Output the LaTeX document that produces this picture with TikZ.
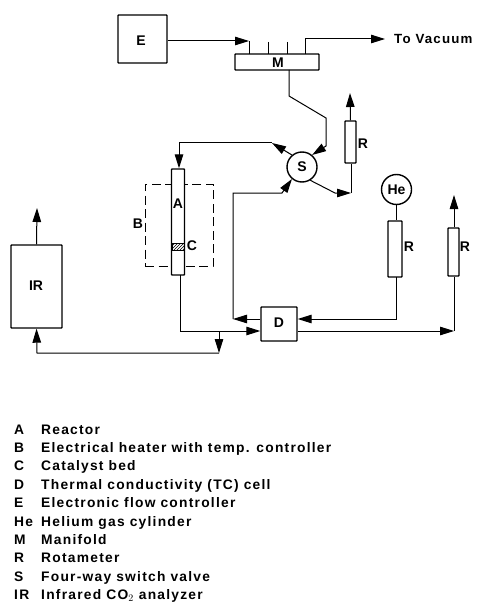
\documentclass[tikz,border=0pt]{standalone}
\usepackage{fontspec}
\setmainfont{Liberation Sans}[BoldFont={Liberation Sans Bold}]
\newfontfamily\legfont[LetterSpace=9]{Liberation Sans Bold}
\usetikzlibrary{arrows.meta,patterns}
\tikzset{
  x=1pt,y=-1pt,
  line/.style={draw=black,line width=1pt},
  boxs/.style={draw=black,line width=1.4pt,fill=white,rounded corners=0.6pt,inner sep=0pt},
  tip/.style={-{Triangle[length=14pt,width=8.5pt]}},
  lab/.style={font=\bfseries\fontsize{14}{15}\selectfont,inner sep=0pt},
  leg/.style={font=\legfont\fontsize{13.8}{15}\selectfont,anchor=base west,inner sep=0pt,text=black},
}
\begin{document}
\begin{tikzpicture}
\useasboundingbox (0,0) rectangle (482,604);
% free points
\coordinate (vac) at (385,39);
\coordinate (irout) at (37,208);
\coordinate (r1out) at (350,93);
\coordinate (r3out) at (454,195);
% boxes
\node[boxs,minimum width=49pt,minimum height=48pt] (E) at (142.5,39) {};
\node[lab] at (141,41) {E};
\node[boxs,minimum width=84pt,minimum height=16pt] (M) at (277,62) {};
\draw[line] (268,42)--(268,54) (287,42)--(287,54);
\node[lab] at (278,63) {M};
\node[boxs,minimum width=51pt,minimum height=83pt] (IR) at (36.5,286.5) {};
\node[lab] at (36,286) {IR};
\node[boxs,minimum width=36pt,minimum height=34pt] (D) at (279,324) {};
\node[lab] at (279,323) {D};
\node[boxs,circle,minimum size=30pt] (S) at (302,167) {};
\node[lab] at (302,167) {S};
\node[boxs,circle,minimum size=30pt] (He) at (396.5,189.5) {};
\node[lab] at (396.5,189.5) {He};
\node[boxs,minimum width=11pt,minimum height=42pt] (R1) at (350.5,142) {};
\node[lab] at (363,144) {R};
\node[boxs,minimum width=14pt,minimum height=56pt] (R2) at (395,249) {};
\node[lab] at (409,247) {R};
\node[boxs,minimum width=11pt,minimum height=48pt] (R3) at (453.5,252) {};
\node[lab] at (465,247) {R};
% heater and reactor
\node[draw=black,line width=1pt,dash pattern=on 9pt off 4.5pt,minimum width=68pt,minimum height=82pt,inner sep=0pt] (B) at (179,225) {};
\node[lab] at (138,224) {B};
\node[boxs,minimum width=13pt,minimum height=106pt] (A) at (178,222) {};
\node[lab] at (178,204) {A};
\node[draw=black,line width=1pt,pattern=north east lines,minimum width=12pt,minimum height=7pt,inner sep=0pt] (Cat) at (178,246.5) {};
\node[lab] at (192,246) {C};
% connectors
\draw[line,tip] (E.east |- 0,41) -- (249,41);
\draw[line] (249,41) -- (249,54);
\draw[line,tip] (305,54) -- (305,39) -- (vac);
\draw[line,tip] (289,70) -- (289,96) -- (326,118) -- (326,146) -- (S.50);
\draw[line,tip] (S.130) -- (272,143);
\draw[line] (272,143) -- (179,143);
\draw[line,tip] (179,143) -- (A.north -| 179,0);
\draw[line,tip] (S.-58) -- (335,193) -- (351,193);
\draw[line] (351,193) -- (R1.south -| 351,0);
\draw[line,tip] (R1.north) -- (r1out);
\draw[line] (He) -- (He |- R2.north);
\draw[line,tip] (396,277) -- (396,319) -- (D.east |- 0,319);
\draw[line,tip] (D.west |- 0,319) -- (233,319);
\draw[line,tip] (233,319) -- (233,193) -- (282,193) -- (S.-130);
\draw[line,tip] (180,275) -- (180,331) -- (D.west |- 0,331);
\draw[line,tip] (219,331) -- (219,353);
\draw[line,tip] (219,353) -- (37,353) -- (IR.south);
\draw[line,tip] (IR.north) -- (irout);
\draw[line,tip] (D.east |- 0,331) -- (454,331);
\draw[line] (454,331) -- (R3.south -| 454,0);
\draw[line,tip] (R3.north -| 454,0) -- (r3out);
\node[leg,anchor=west,font=\legfont\fontsize{13.3}{15}\selectfont] (vt) at (394,39) {To Vacuum};
% legend
\foreach \k/\t [count=\i from 0] in {A/Reactor,B/Electrical heater with temp. controller,C/Catalyst bed,D/Thermal conductivity (TC) cell,E/Electronic flow controller,He/Helium gas cylinder,M/Manifold,R/Rotameter,S/Four-way switch valve,{IR}/{Infrared CO$_2$ analyzer}}{
  \node[leg] (k\i) at (14,434+18.4*\i) {\k};
  \node[leg] (t\i) at (41,434+18.4*\i) {\t};
}
\end{tikzpicture}
\end{document}
